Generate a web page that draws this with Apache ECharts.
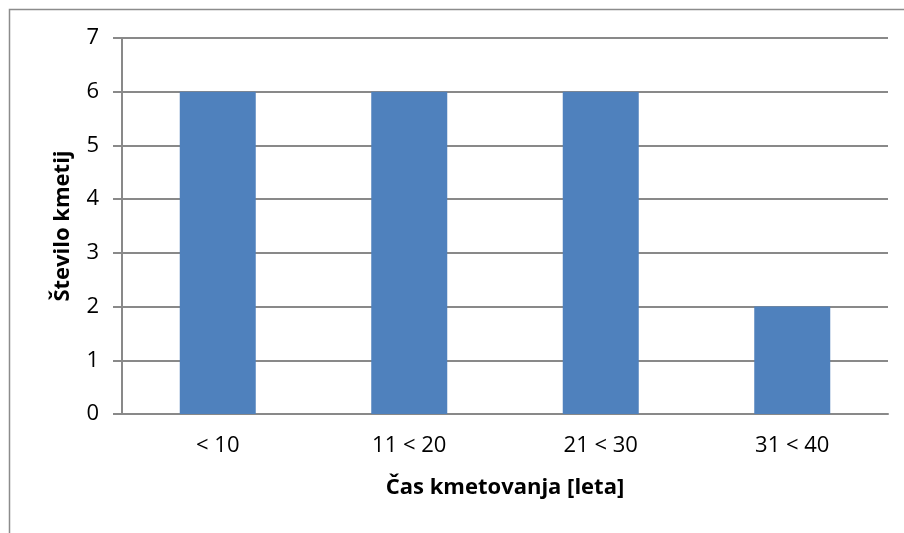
<!DOCTYPE html>
<html>
<head>
<meta charset="utf-8">
<script src="https://cdn.jsdelivr.net/npm/echarts@6/dist/echarts.min.js"></script>
<style>
  html, body { margin: 0; padding: 0; background: #fff; }
  #chart { width: 904px; height: 533px; }
</style>
</head>
<body>
<div id="chart"></div>
<script>
const categories = ['< 10', '11 < 20', '21 < 30', '31 < 40']
const counts = [6, 6, 6, 2]
const xTitle = 'Čas kmetovanja [leta]'
const yTitle = 'Število kmetij'

const chart = echarts.init(document.getElementById('chart'))

const gray = '#898989'
const font = '"Open Sans", sans-serif'

chart.setOption({
  animation: false,
  grid: { left: 122, right: 16, top: 38, bottom: 119 },
  graphic: [{
    type: 'rect',
    shape: { x: 9.5, y: 9.5, width: 1000, height: 1000 },
    style: { fill: 'none', stroke: '#8c8c8c', lineWidth: 1.5 },
    silent: true
  }],
  xAxis: {
    type: 'category',
    data: categories,
    name: xTitle,
    nameLocation: 'middle',
    nameGap: 63,
    nameTextStyle: { color: '#000', fontSize: 22, fontWeight: 'bold', fontFamily: font },
    axisLine: { lineStyle: { color: gray, width: 2 } },
    axisTick: { show: false },
    axisLabel: { color: '#000', fontSize: 22, fontFamily: font, margin: 21 }
  },
  yAxis: {
    type: 'value',
    min: 0,
    max: 7,
    interval: 1,
    name: yTitle,
    nameLocation: 'middle',
    nameGap: 48,
    nameTextStyle: { color: '#000', fontSize: 22, fontWeight: 'bold', fontFamily: font },
    axisLine: { show: true, lineStyle: { color: gray, width: 2 } },
    axisTick: { show: true, length: 9, lineStyle: { color: gray, width: 2 } },
    splitLine: { lineStyle: { color: gray, width: 2 } },
    axisLabel: { color: '#000', fontSize: 22, fontFamily: font, margin: 23 }
  },
  series: [{
    type: 'bar',
    data: counts,
    barWidth: 76,
    itemStyle: { color: '#4F81BD' }
  }]
})
</script>
</body>
</html>
